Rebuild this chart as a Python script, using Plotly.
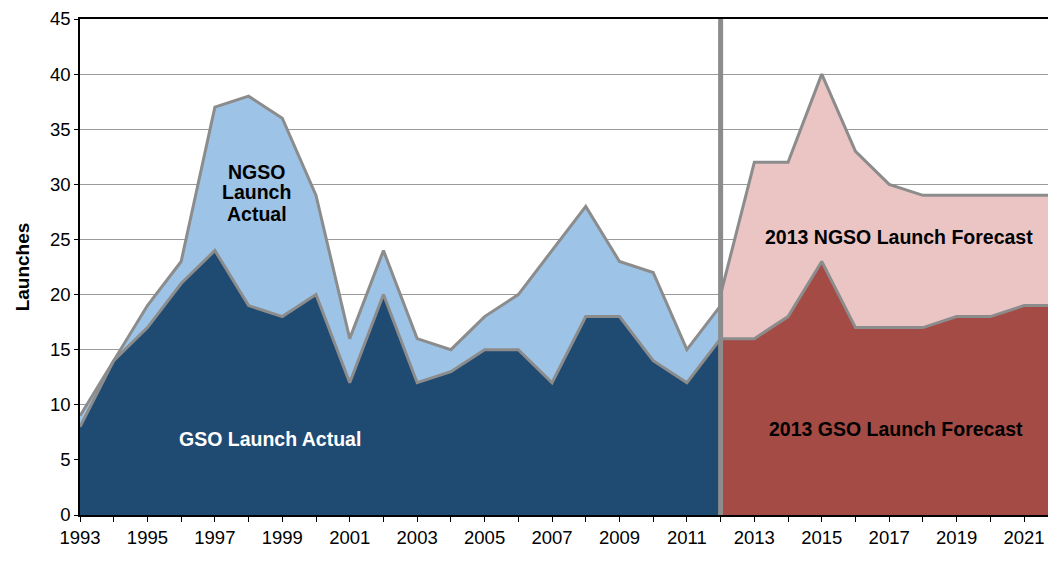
import plotly.graph_objects as go

# ---- data ----
actual_years = list(range(1993, 2013))
gso_actual = [8, 14, 17, 21, 24, 19, 18, 20, 12, 20, 12, 13, 15, 15, 12, 18, 18, 14, 12, 16]
ngso_actual = [1, 0, 2, 2, 13, 19, 18, 9, 4, 4, 4, 2, 3, 5, 12, 10, 5, 8, 3, 3]

forecast_years = list(range(2012, 2023))
gso_forecast = [16, 16, 18, 23, 17, 17, 17, 18, 18, 19, 19]
ngso_forecast = [4, 16, 14, 17, 16, 13, 12, 11, 11, 10, 10]

divider_year = 2012
tick_years = list(range(1993, 2023))
tick_labels = [str(y) if (y - 1993) % 2 == 0 else "" for y in tick_years]
y_ticks = list(range(0, 50, 5))

OUTLINE = "#8c8c8c"
FONT = "Liberation Sans, Arial, Helvetica, sans-serif"

fig = go.Figure()

fig.add_trace(go.Scatter(x=actual_years, y=gso_actual, stackgroup="actual", mode="lines",
                         line=dict(color=OUTLINE, width=3), fillcolor="#1f4a72",
                         name="GSO Launch Actual", hoverinfo="x+y"))
fig.add_trace(go.Scatter(x=actual_years, y=ngso_actual, stackgroup="actual", mode="lines",
                         line=dict(color=OUTLINE, width=3), fillcolor="#9dc3e6",
                         name="NGSO Launch Actual", hoverinfo="x+y"))
fig.add_trace(go.Scatter(x=forecast_years, y=gso_forecast, stackgroup="forecast", mode="lines",
                         line=dict(color=OUTLINE, width=3), fillcolor="#a54b45",
                         name="2013 GSO Launch Forecast", hoverinfo="x+y"))
fig.add_trace(go.Scatter(x=forecast_years, y=ngso_forecast, stackgroup="forecast", mode="lines",
                         line=dict(color=OUTLINE, width=3), fillcolor="#ebc5c4",
                         name="2013 NGSO Launch Forecast", hoverinfo="x+y"))

# divider between actual and forecast
fig.add_shape(type="line", x0=divider_year, x1=divider_year, y0=0, y1=45,
              xref="x", yref="y", line=dict(color=OUTLINE, width=5), layer="above")

ann_font = dict(family=FONT, size=19.5, color="black")
for txt, yv in [("NGSO", 31.1), ("Launch", 29.3), ("Actual", 27.3)]:
    fig.add_annotation(x=1998.24, y=yv, text="<b>%s</b>" % txt, showarrow=False, font=ann_font)
fig.add_annotation(x=1998.63, y=6.9, text="<b>GSO Launch Actual</b>", showarrow=False,
                   font=dict(family=FONT, size=19.5, color="white"))
fig.add_annotation(x=2017.3, y=25.2, text="<b>2013 NGSO Launch Forecast</b>", showarrow=False,
                   font=ann_font)
fig.add_annotation(x=2017.2, y=7.8, text="<b>2013 GSO Launch Forecast</b>", showarrow=False,
                   font=ann_font)

fig.update_layout(
    width=1048, height=562,
    margin=dict(l=80, r=0, t=19, b=47),
    paper_bgcolor="white", plot_bgcolor="white",
    showlegend=False,
    font=dict(family=FONT, size=18, color="black"),
    xaxis=dict(range=[1993, 2021.71], tickvals=tick_years, ticktext=tick_labels,
               ticks="outside", ticklen=5, tickcolor="black", tickwidth=1,
               showline=True, linecolor="black", linewidth=1.5, mirror=True,
               showgrid=False, zeroline=False, tickfont=dict(size=18.5)),
    yaxis=dict(range=[0, 45], tickvals=y_ticks, ticks="outside", ticklen=4,
               tickcolor="black", showline=True, linecolor="black", linewidth=1.5,
               showgrid=True, gridcolor="#9a9a9a", gridwidth=1.2, zeroline=False,
               tickfont=dict(size=18.5),
               title=dict(text="<b>Launches</b>", font=dict(size=19), standoff=15)),
)

fig.write_html("out.html", config={"displayModeBar": False},
               post_script="document.body.style.margin='0';document.body.style.overflow='hidden';")
